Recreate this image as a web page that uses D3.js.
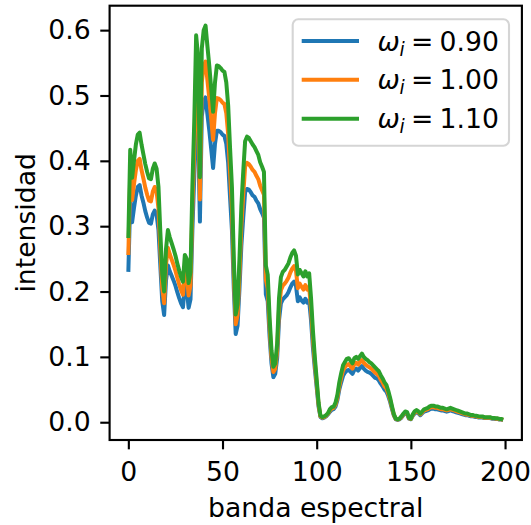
<!DOCTYPE html>
<html>
<head>
<meta charset="utf-8">
<script src="https://cdn.jsdelivr.net/npm/d3@7"></script>
<style>
  html, body { margin: 0; padding: 0; background: #fff; }
  svg { display: block; font-family: "DejaVu Sans", sans-serif; }
</style>
</head>
<body>
<svg id="chart" width="531" height="525"></svg>
<script>
// ---- data ----
const bands = Array.from({length: 200}, (_, i) => i);

const seriesNames = ["0.90", "1.00", "1.10"];
const seriesColors = ["#1f77b4", "#ff7f0e", "#2ca02c"];

const blue = [
.230,.341,.306,.328,.347,.360,.363,.347,.336,.323,
.313,.305,.304,.318,.324,.318,.294,.238,.185,.164,
.217,.240,.231,.224,.217,.209,.199,.190,.182,.176,
.210,.204,.175,.188,.294,.376,.484,.458,.307,.468,
.491,.497,.471,.446,.418,.389,.426,.446,.446,.444,
.440,.438,.426,.397,.344,.294,.204,.135,.148,.204,
.270,.313,.352,.357,.356,.352,.347,.345,.339,.335,
.326,.320,.313,.196,.185,.131,.090,.069,.074,.098,
.156,.182,.188,.191,.194,.199,.206,.212,.215,.209,
.185,.191,.186,.183,.189,.183,.186,.156,.114,.082,
.053,.024,.008,.006,.007,.009,.012,.016,.019,.020,
.024,.034,.050,.061,.071,.076,.079,.080,.077,.074,
.080,.082,.079,.083,.086,.082,.079,.077,.076,.074,
.071,.068,.067,.064,.059,.055,.050,.047,.040,.031,
.020,.010,.0045,.0036,.0045,.007,.011,.0135,.0126,.0054,
.0045,.0099,.0135,.0153,.0135,.0108,.0135,.0162,.0171,.018,
.0198,.0207,.0207,.0198,.0198,.0189,.018,.018,.0171,.0162,
.0171,.018,.0171,.0162,.0153,.0144,.0135,.0126,.0117,.0108,
.0108,.0099,.009,.009,.0081,.0081,.0072,.0072,.0072,.0063,
.0063,.0063,.0063,.0054,.0054,.005,.005,.004,.004,.0032
];

const orange = [
.256,.379,.340,.364,.386,.400,.403,.386,.373,.359,
.348,.339,.338,.353,.360,.353,.327,.264,.205,.182,
.241,.267,.257,.249,.241,.232,.221,.211,.202,.195,
.233,.227,.194,.209,.327,.418,.538,.509,.341,.520,
.545,.552,.523,.495,.464,.432,.473,.496,.495,.493,
.489,.487,.473,.441,.382,.327,.227,.150,.164,.227,
.300,.348,.391,.397,.395,.391,.386,.383,.377,.372,
.362,.355,.348,.218,.205,.145,.100,.077,.082,.109,
.173,.202,.209,.212,.216,.221,.229,.235,.239,.232,
.205,.212,.207,.203,.210,.203,.207,.173,.127,.091,
.059,.027,.009,.007,.008,.010,.013,.018,.021,.022,
.027,.038,.055,.068,.079,.084,.088,.089,.085,.082,
.089,.091,.088,.092,.095,.091,.088,.086,.084,.082,
.079,.076,.074,.071,.065,.061,.055,.052,.044,.034,
.022,.011,.005,.004,.005,.008,.012,.015,.014,.006,
.005,.011,.015,.017,.015,.012,.015,.018,.019,.020,
.022,.023,.023,.022,.022,.021,.020,.020,.019,.018,
.019,.020,.019,.018,.017,.016,.015,.014,.013,.012,
.012,.011,.010,.010,.009,.009,.008,.008,.008,.007,
.007,.007,.007,.006,.006,.0055,.0055,.0045,.0045,.0036
];

const green = [
.282,.417,.374,.400,.425,.440,.443,.425,.410,.395,
.383,.373,.372,.388,.396,.388,.360,.290,.226,.200,
.265,.294,.283,.274,.265,.255,.243,.232,.222,.215,
.256,.250,.213,.230,.360,.460,.592,.560,.375,.572,
.600,.607,.575,.545,.510,.475,.520,.546,.545,.542,
.538,.536,.520,.485,.420,.360,.250,.165,.180,.250,
.330,.383,.430,.437,.435,.430,.425,.421,.415,.409,
.398,.391,.383,.240,.226,.160,.110,.085,.090,.120,
.190,.222,.230,.233,.238,.243,.252,.259,.263,.255,
.226,.233,.228,.223,.231,.223,.228,.190,.140,.100,
.065,.030,.010,.008,.009,.011,.014,.020,.023,.024,
.030,.042,.061,.075,.087,.092,.097,.098,.094,.090,
.098,.100,.097,.101,.105,.100,.097,.095,.092,.090,
.087,.084,.081,.078,.072,.067,.061,.057,.048,.037,
.024,.012,.0055,.0044,.0055,.009,.013,.0165,.0154,.0066,
.0055,.0121,.0165,.0187,.0165,.0132,.0165,.0198,.0209,.022,
.0242,.0253,.0253,.0242,.0242,.0231,.022,.022,.0209,.0198,
.0209,.022,.0209,.0198,.0187,.0176,.0165,.0154,.0143,.0132,
.0132,.0121,.011,.011,.0099,.0099,.0088,.0088,.0088,.0077,
.0077,.0077,.0077,.0066,.0066,.006,.006,.005,.005,.004
];

const xTicks = [0, 50, 100, 150, 200];
const yTicks = [0.0, 0.1, 0.2, 0.3, 0.4, 0.5, 0.6];
const xLabel = "banda espectral";
const yLabel = "intensidad";

// ---- layout ----
const svg = d3.select("#chart");
const L = 109.6, R = 521.9, T = 5.7, B = 440;
const FS = 26.67;
const TICK = 9.33;

const x = d3.scaleLinear().domain([-9.95, 208.95]).range([L, R]);
const y = d3.scaleLinear().domain([-0.0272, 0.6374]).range([B, T]);

const allSeries = [blue, orange, green];

const line = d3.line()
  .x((d, i) => x(bands[i]))
  .y(d => y(d));

const plot = svg.append("g");
allSeries.forEach((s, k) => {
  plot.append("path")
    .datum(s)
    .attr("d", line)
    .attr("fill", "none")
    .attr("stroke", seriesColors[k])
    .attr("stroke-width", 4)
    .attr("stroke-linejoin", "round")
    .attr("stroke-linecap", "butt");
});

// axes
const xAxis = d3.axisBottom(x).tickValues(xTicks).tickFormat(d3.format("d"))
  .tickSize(TICK).tickPadding(13);
const yAxis = d3.axisLeft(y).tickValues(yTicks).tickFormat(d3.format(".1f"))
  .tickSize(TICK).tickPadding(9.5);

const gx = svg.append("g").attr("transform", `translate(0,${B})`).call(xAxis);
const gy = svg.append("g").attr("transform", `translate(${L},0)`).call(yAxis);
[gx, gy].forEach(g => {
  g.select(".domain").remove();
  g.selectAll(".tick line").attr("stroke", "#000").attr("stroke-width", 2.13);
  g.selectAll(".tick text").attr("fill", "#000")
    .style("font-family", "DejaVu Sans").style("font-size", FS + "px");
});

// spines
svg.append("rect")
  .attr("x", L).attr("y", T).attr("width", R - L).attr("height", B - T)
  .attr("fill", "none").attr("stroke", "#000").attr("stroke-width", 2.13);

// axis labels
svg.append("text")
  .attr("x", (L + R) / 2).attr("y", 516.5)
  .attr("text-anchor", "middle")
  .style("font-size", FS + "px")
  .text(xLabel);

svg.append("text")
  .attr("transform", `translate(35,${(T + B) / 2}) rotate(-90)`)
  .attr("text-anchor", "middle")
  .style("font-size", FS + "px")
  .text(yLabel);

// legend
const lg = svg.append("g");
lg.append("rect")
  .attr("x", 292.7).attr("y", 19.3).attr("width", 216.3).attr("height", 126.4)
  .attr("rx", 5.5).attr("ry", 5.5)
  .attr("fill", "rgba(255,255,255,0.8)")
  .attr("stroke", "#d5d5d5").attr("stroke-width", 2.1);

const rowY = [41, 79.8, 118.7];
seriesNames.forEach((name, k) => {
  const yy = rowY[k];
  lg.append("line")
    .attr("x1", 301.7).attr("x2", 359).attr("y1", yy).attr("y2", yy)
    .attr("stroke", seriesColors[k]).attr("stroke-width", 4);
  const base = yy + 9.5;
  lg.append("text").attr("x", 377.5).attr("y", base)
    .style("font-size", FS + "px").style("font-style", "italic").text("ω");
  lg.append("text").attr("x", 399.5).attr("y", base + 5)
    .style("font-size", (FS * 0.7) + "px").style("font-style", "italic").text("i");
  lg.append("text").attr("x", 411).attr("y", base)
    .style("font-size", FS + "px").text("=");
  lg.append("text").attr("x", 439.5).attr("y", base)
    .style("font-size", FS + "px").text(name);
});
</script>
</body>
</html>
